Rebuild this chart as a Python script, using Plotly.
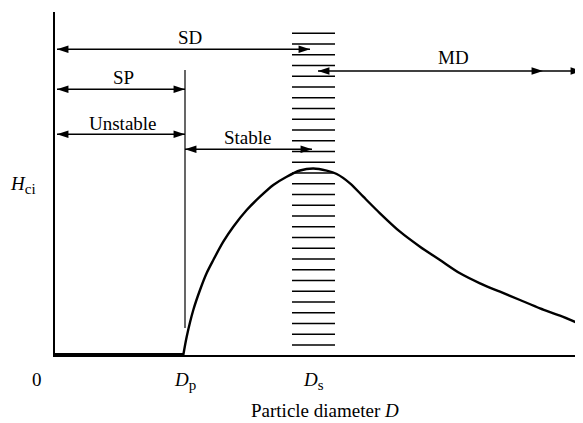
import plotly.graph_objects as go

# Schematic data: coercivity H_ci vs particle diameter D (arbitrary units)
curve_D = [2.566, 2.634, 2.766, 2.9, 3.034, 3.166, 3.366, 3.566, 3.834, 4.1, 4.366, 4.634, 4.9,
           5.166, 5.434, 5.634, 5.9, 6.166, 6.5, 6.9, 7.3, 7.7, 8.1, 8.5, 8.9, 9.3, 9.7, 10.1, 10.466]
curve_H = [0.0, 0.183, 0.45, 0.65, 0.82, 0.95, 1.133, 1.283, 1.45, 1.583, 1.70, 1.783, 1.845,
           1.865, 1.843, 1.81, 1.717, 1.583, 1.417, 1.233, 1.083, 0.95, 0.817, 0.717, 0.633, 0.55,
           0.467, 0.393, 0.317]
zero_D = [0.0, 2.58]
zero_H = [0.0, 0.0]
D_p = 2.6
D_s = 5.16
hatch_x = [4.74, 5.6]
hatch_levels = [3.217 - 0.1075 * i for i in range(30)]
X_MAX = 10.56
Y_MAX = 3.43

FONT = "Liberation Serif"
FS = 19

fig = go.Figure()

# hatched band around D_s
for h in hatch_levels:
    fig.add_trace(go.Scatter(x=hatch_x, y=[h, h], mode="lines",
                             line=dict(color="black", width=1.6),
                             hoverinfo="skip", showlegend=False))

# thick zero segment
fig.add_trace(go.Scatter(x=zero_D, y=zero_H, mode="lines",
                         line=dict(color="black", width=4), showlegend=False))
# curve
fig.add_trace(go.Scatter(x=curve_D, y=curve_H, mode="lines",
                         line=dict(color="black", width=2.4, shape="spline", smoothing=0.8),
                         showlegend=False))
# D_p vertical line
fig.add_trace(go.Scatter(x=[D_p, D_p], y=[0.27, 2.85], mode="lines",
                         line=dict(color="black", width=1.2), showlegend=False))

def arrow(x0, x1, y, both=True):
    fig.add_trace(go.Scatter(x=[x0, x1], y=[y, y], mode="lines", showlegend=False,
                             hoverinfo="skip", line=dict(color="black", width=1.6)))
    xs = [x1] + ([x0] if both else [])
    angs = [90] + ([-90] if both else [])
    fig.add_trace(go.Scatter(x=xs, y=[y] * len(xs), mode="markers", showlegend=False,
                             hoverinfo="skip",
                             marker=dict(symbol="arrow", size=12, angle=angs, color="black",
                                         line=dict(width=0))))

arrow(0.04, 5.1, 3.057)          # SD
arrow(0.04, D_p, 2.657)          # SP
arrow(0.04, D_p, 2.207)          # Unstable
arrow(D_p, 5.14, 2.057)          # Stable
arrow(5.26, 9.76, 2.84)          # MD
arrow(9.76, 10.54, 2.84, both=False)

def label(text, x, y):
    # positions in data units, placed via paper coordinates so labels outside the axes show
    fig.add_annotation(x=x / X_MAX, y=y / Y_MAX, xref="paper", yref="paper", text=text,
                       xanchor="center", yanchor="middle",
                       showarrow=False, font=dict(family=FONT, size=FS, color="black"))

SUB = "<sub><span style='font-size:15px'>%s</span></sub>"
label("SD", 2.7, 3.18)
label("SP", 1.36, 2.78)
label("Unstable", 1.36, 2.32)
label("Stable", 3.86, 2.18)
label("MD", 7.96, 2.97)
label("0", -0.36, -0.24)
label("<i>D</i>" + SUB % "p", D_p, -0.26)
label("<i>D</i>" + SUB % "s", D_s, -0.26)
label("<i>H</i>" + SUB % "ci", -0.64, 1.7)
label("Particle diameter <i>D</i>", 5.4, -0.55)

# page body has an 8px offset; size the figure to fill the rest of the window
fig.update_layout(
    width=575, height=415,
    margin=dict(l=47, r=0, t=4, b=68),
    paper_bgcolor="white", plot_bgcolor="white",
    font=dict(family=FONT, size=FS, color="black"),
    showlegend=False,
    xaxis=dict(range=[0, X_MAX], showgrid=False, zeroline=False, showticklabels=False,
               ticks="", showline=True, linecolor="black", linewidth=1.5, fixedrange=True),
    yaxis=dict(range=[0, Y_MAX], showgrid=False, zeroline=False, showticklabels=False,
               ticks="", showline=True, linecolor="black", linewidth=1.5, fixedrange=True),
)

fig.write_html("out.html")
